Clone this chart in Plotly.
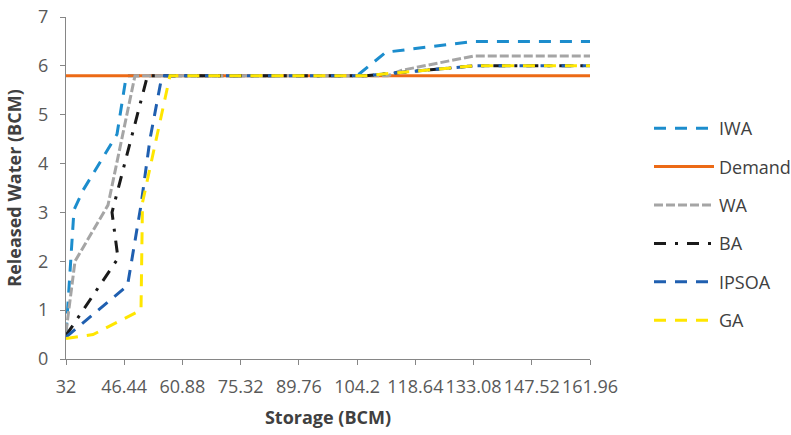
import plotly.graph_objects as go

# Tick labels on the storage axis
tick_vals = [32, 46.44, 60.88, 75.32, 89.76, 104.2, 118.64, 133.08, 147.52, 161.96]
tick_text = ["32", "46.44", "60.88", "75.32", "89.76", "104.2", "118.64", "133.08", "147.52", "161.96"]

# Series (storage, released water)
iwa_x = [32, 33.98, 36.2, 44.65, 46.96, 104.2, 111.36, 133.08, 161.96]
iwa_y = [0.5, 3.05, 3.45, 4.6, 5.8, 5.8, 6.28, 6.5, 6.5]

demand_x = [32, 161.96]
demand_y = [5.8, 5.8]

wa_x = [32, 34.23, 42.42, 49.11, 111.86, 115.3, 133.08, 161.96]
wa_y = [0.55, 2.0, 3.15, 5.8, 5.8, 5.91, 6.2, 6.2]

ba_x = [32, 44.9, 43.41, 52.21, 106.4, 133.08, 161.96]
ba_y = [0.48, 2.06, 3.0, 5.8, 5.8, 6.0, 6.0]

ipsoa_x = [32, 47.25, 50.6, 52.83, 55.81, 106.4, 133.08, 161.96]
ipsoa_y = [0.45, 1.5, 3.15, 4.5, 5.8, 5.8, 6.0, 6.0]

ga_x = [32, 38.7, 50.6, 50.97, 57.79, 106.4, 133.08, 161.96]
ga_y = [0.42, 0.5, 1.0, 3.2, 5.8, 5.8, 6.0, 6.0]

FONT = "Open Sans"

series = [
    ("IWA", iwa_x, iwa_y, "#1C8DCD", "12px,9px"),
    ("Demand", demand_x, demand_y, "#EC6A16", "solid"),
    ("WA", wa_x, wa_y, "#A5A5A5", "9px,3px"),
    ("BA", ba_x, ba_y, "#1A1A1A", "12px,9px,3px,9px"),
    ("IPSOA", ipsoa_x, ipsoa_y, "#1F5FB0", "12px,9px"),
    ("GA", ga_x, ga_y, "#FFE600", "12px,9px"),
]

fig = go.Figure()
for name, xs, ys, color, dash in series:
    fig.add_trace(go.Scatter(
        x=xs, y=ys, name=name, mode="lines", legendgroup=name,
        line=dict(color=color, width=3, dash=dash),
    ))

fig.update_layout(
    width=791, height=435,
    margin=dict(l=66, r=201, t=17, b=76, autoexpand=False),
    paper_bgcolor="white", plot_bgcolor="white",
    font=dict(family=FONT, size=18, color="#595959"),
    showlegend=True,
    legend=dict(
        xref="container", yref="container",
        x=649 / 791, xanchor="left", y=1 - 110 / 435, yanchor="top",
        font=dict(family=FONT, size=18, color="#404040"),
        tracegroupgap=12, traceorder="grouped", itemwidth=60,
        maxheight=400,
        bgcolor="rgba(0,0,0,0)",
    ),
    xaxis=dict(
        range=[32, 161.96], tickmode="array", tickvals=tick_vals, ticktext=tick_text,
        tickangle=0,
        showgrid=False, zeroline=False, showline=True, linecolor="#868686", linewidth=1.3,
        ticks="outside", ticklen=5, tickcolor="#868686", tickwidth=1.3,
        tickfont=dict(family=FONT, size=18, color="#595959"),
        ticklabelstandoff=6,
        title=dict(text="<b>Storage (BCM)</b>", font=dict(family=FONT, size=18, color="#404040"), standoff=14),
    ),
    yaxis=dict(
        range=[0, 7], dtick=1, tick0=0,
        showgrid=False, zeroline=False, showline=True, linecolor="#868686", linewidth=1.3,
        ticks="outside", ticklen=5, tickcolor="#868686", tickwidth=1.3,
        tickfont=dict(family=FONT, size=18, color="#595959"),
        ticklabelstandoff=8,
        title=dict(text="<b>Released Water (BCM)</b>", font=dict(family=FONT, size=18, color="#404040"), standoff=11),
    ),
)

fig.write_html("out.html")
